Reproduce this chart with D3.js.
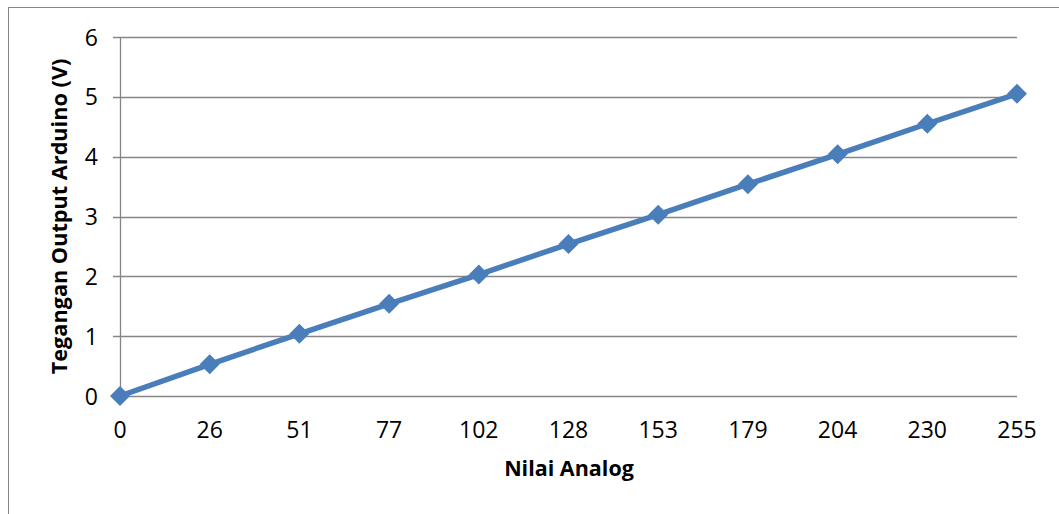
<!DOCTYPE html>
<html><head><meta charset="utf-8">
<script src="https://cdn.jsdelivr.net/npm/d3@7"></script>
<style>body{margin:0;background:#fff;} text{font-family:"Open Sans","Noto Sans",sans-serif;}</style>
</head><body>
<svg id="c" width="1059" height="514"></svg>
<script>
const categories = ["0","26","51","77","102","128","153","179","204","230","255"];
const voltage = [0, 0.53, 1.04, 1.54, 2.03, 2.54, 3.03, 3.54, 4.04, 4.55, 5.05];
const yTicks = [0,1,2,3,4,5,6];
const xTitle = "Nilai Analog";
const yTitle = "Tegangan Output Arduino (V)";

const svg = d3.select("#c");
const m = {l:120, r:1017, t:37, b:396};
// outer border
svg.append("rect").attr("x",8.5).attr("y",7.5).attr("width",1100).attr("height",600)
  .attr("fill","none").attr("stroke","#868686").attr("stroke-width",1);

const x = d3.scalePoint().domain(categories).range([m.l, m.r]);
const y = d3.scaleLinear().domain([0,6]).range([m.b, m.t]);

// gridlines
svg.append("g").selectAll("line").data(yTicks).join("line")
  .attr("x1", m.l-7).attr("x2", m.r)
  .attr("y1", d=>Math.round(y(d))+0.5).attr("y2", d=>Math.round(y(d))+0.5)
  .attr("stroke","#868686").attr("stroke-width",1.3);
// y axis line
svg.append("line").attr("x1",m.l+0.5).attr("x2",m.l+0.5).attr("y1",m.t).attr("y2",m.b)
  .attr("stroke","#868686").attr("stroke-width",1.3);

// y tick labels
svg.append("g").selectAll("text").data(yTicks).join("text")
  .attr("x", m.l-22).attr("y", d=>y(d)+8.5)
  .attr("text-anchor","end").attr("font-size",23).attr("fill","#000").text(d=>d);
// x tick labels
svg.append("g").selectAll("text").data(categories).join("text")
  .attr("x", d=>x(d)).attr("y", 438)
  .attr("text-anchor","middle").attr("font-size",23).attr("fill","#000").text(d=>d);

// titles
svg.append("text").attr("x", 569).attr("y", 476).attr("text-anchor","middle")
  .attr("font-size",21.5).attr("font-weight","bold").text(xTitle);
svg.append("text").attr("transform",`translate(67,${(m.t+m.b)/2}) rotate(-90)`)
  .attr("text-anchor","middle").attr("font-size",21.7).attr("font-weight","bold").text(yTitle);

// line
const line = d3.line().x((d,i)=>x(categories[i])).y(d=>y(d));
svg.append("path").datum(voltage).attr("d", line).attr("fill","none")
  .attr("stroke","#4A7EBB").attr("stroke-width",5.5).attr("stroke-linejoin","round");
// markers (diamonds)
svg.append("g").selectAll("path").data(voltage).join("path")
  .attr("transform",(d,i)=>`translate(${x(categories[i])},${y(d)}) rotate(45)`)
  .attr("d", d3.symbol().type(d3.symbolSquare).size(200)())
  .attr("fill","#4A7EBB");
</script>
</body></html>
